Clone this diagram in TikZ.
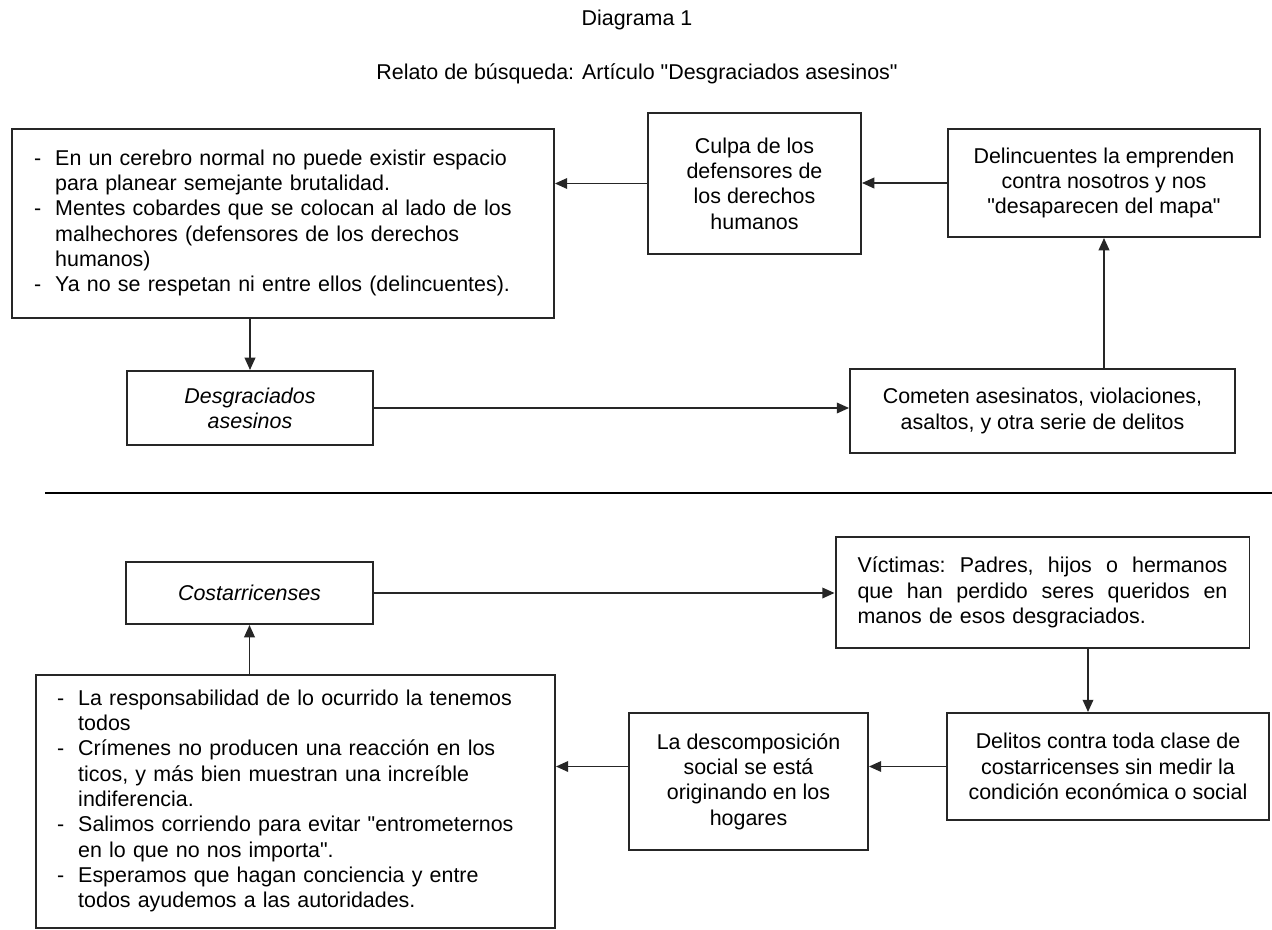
\documentclass[tikz,border=0pt]{standalone}
\usepackage{fontspec}
\setmainfont{Liberation Sans}
\usetikzlibrary{arrows.meta}

\tikzset{
  box/.style={draw=black!85, line width=1.1pt, align=center, inner sep=0pt,
    font=\fontsize{12.2}{14.4}\selectfont},
  listbox/.style={box, align=left},
  arr/.style={-{Triangle[length=7pt,width=6pt]}, line width=1.1pt, draw=black!85},
}

\newcommand{\dashlist}[1]{%
  \begin{tabular}{@{}l@{\hspace{8pt}}l@{}}#1\end{tabular}}
\newcommand{\dq}{\textquotedbl}

\begin{document}
\begin{tikzpicture}[x=0.02cm, y=-0.02cm]
    \useasboundingbox (0,0) rectangle (1272,930);

    % Titles
    \node[font=\fontsize{12.2}{14.4}\selectfont] (title) at (637,20) {Diagrama 1};
    \node[font=\fontsize{12.2}{14.4}\selectfont] (subtitle) at (637,74)
        {Relato de búsqueda: Artículo \dq Desgraciados asesinos\dq};

    % Upper part
    \node[listbox, text width=9.96cm, inner xsep=0.44cm, minimum height=3.78cm] (mentes) at (283,223.5)
        {\dashlist{- & En un cerebro normal no puede existir espacio\\
                     & para planear semejante brutalidad.\\
                   - & Mentes cobardes que se colocan al lado de los\\
                     & malhechores (defensores de los derechos\\
                     & humanos)\\
                   - & Ya no se respetan ni entre ellos (delincuentes).}};
    \node[box, minimum width=4.26cm, minimum height=2.82cm] (culpa) at (754.5,183.5)
        {Culpa de los\\defensores de\\los derechos\\humanos};
    \node[box, minimum width=6.24cm, minimum height=2.16cm] (delincuentes) at (1104,183)
        {Delincuentes la emprenden\\contra nosotros y nos\\\dq desaparecen del mapa\dq};
    \node[box, minimum width=4.92cm, minimum height=1.48cm] (asesinos) at (250,408)
        {\itshape Desgraciados\\\itshape asesinos};
    \node[box, minimum width=7.70cm, minimum height=1.68cm] (cometen) at (1042.5,411)
        {Cometen asesinatos, violaciones,\\asaltos, y otra serie de delitos};

    \draw[arr] (delincuentes.west) -- (delincuentes.west -| culpa.east);
    \draw[arr] (culpa.west) -- (culpa.west -| mentes.east);
    \draw[arr] (mentes.south -| asesinos.north) -- (asesinos.north);
    \draw[arr] (asesinos.east) -- (asesinos.east -| cometen.west);
    \draw[arr] (cometen.north -| delincuentes.south) -- (delincuentes.south);

    % Separator
    \coordinate (sepL) at (45,493);
    \coordinate (sepR) at (1272,493);
    \draw[line width=1.3pt] (sepL) -- (sepR);

    % Lower part
    \node[box, minimum width=4.94cm, minimum height=1.24cm] (ticos) at (249.5,593)
        {\itshape Costarricenses};
    \node[listbox, text width=7.4cm, inner xsep=0.44cm, minimum height=2.22cm] (victimas) at (1042.5,592.5)
        {Víctimas:\hfill Padres,\hfill hijos\hfill o\hfill hermanos\\
         que\hfill han\hfill perdido\hfill seres\hfill queridos\hfill en\\
         manos de esos desgraciados.};
    \node[box, minimum width=6.44cm, minimum height=2.14cm] (delitos) at (1108,766.5)
        {Delitos contra toda clase de\\costarricenses sin medir la\\condición económica o social};
    \node[box, minimum width=4.78cm, minimum height=2.74cm] (hogares) at (748.5,781.5)
        {La descomposición\\social se está\\originando en los\\hogares};
    \node[listbox, text width=9.54cm, inner xsep=0.42cm, minimum height=5.06cm] (todos) at (295.5,801.5)
        {\dashlist{- & La responsabilidad de lo ocurrido la tenemos\\
                     & todos\\
                   - & Crímenes no producen una reacción en los\\
                     & ticos, y más bien muestran una increíble\\
                     & indiferencia.\\
                   - & Salimos corriendo para evitar \dq entrometernos\\
                     & en lo que no nos importa\dq.\\
                   - & Esperamos que hagan conciencia y entre\\
                     & todos ayudemos a las autoridades.}};

    \draw[arr] (ticos.east) -- (ticos.east -| victimas.west);
    \draw[arr] ([xshift=-0.4cm]delitos.north |- victimas.south) -- ([xshift=-0.4cm]delitos.north);
    \draw[arr] (delitos.west) -- (delitos.west -| hogares.east);
    \draw[arr] (delitos.west -| hogares.west) -- (delitos.west -| todos.east);
    \draw[arr] (todos.north -| ticos.south) -- (ticos.south);
\end{tikzpicture}
\end{document}
